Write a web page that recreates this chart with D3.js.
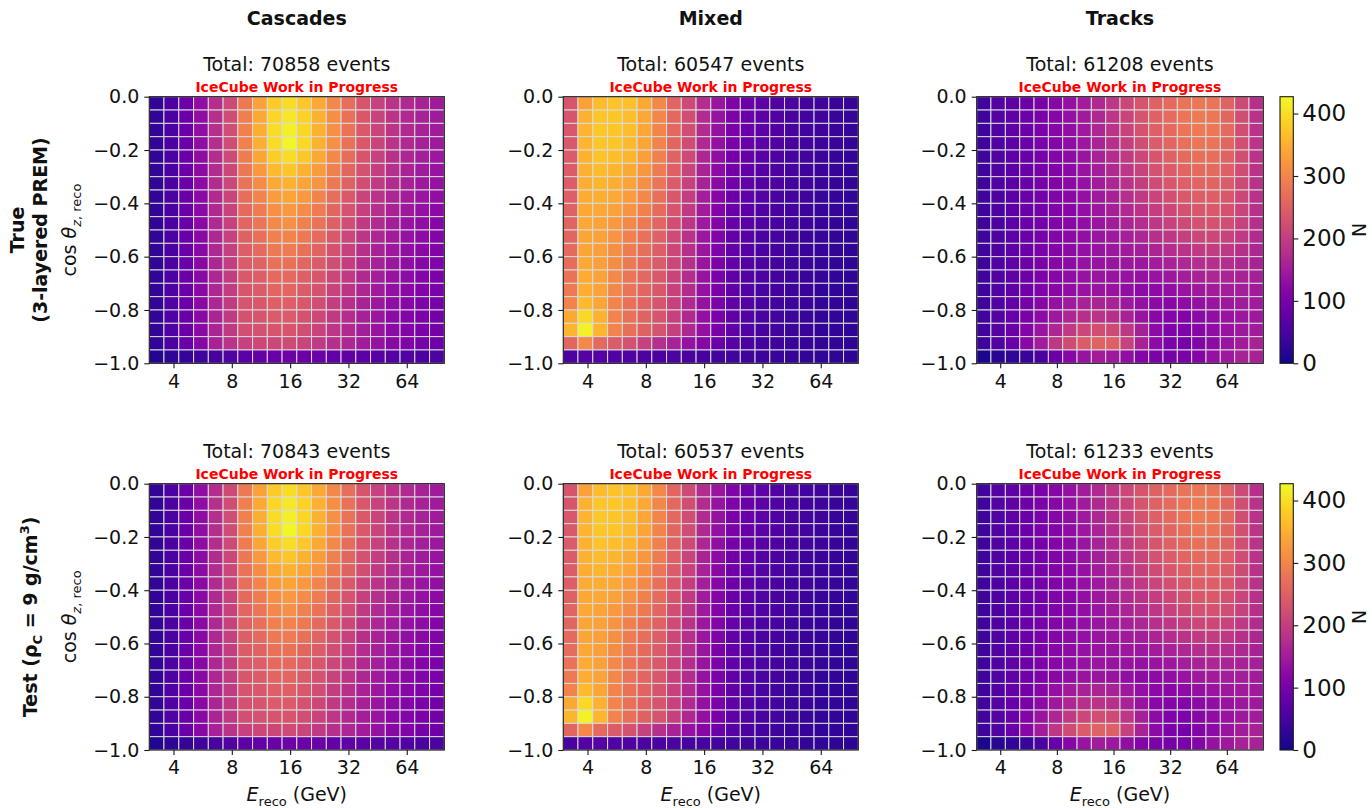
<!DOCTYPE html>
<html>
<head>
<meta charset="utf-8">
<script src="https://cdn.jsdelivr.net/npm/d3@7"></script>
<style>
  html, body { margin: 0; padding: 0; background: #fff; }
  svg { display: block; font-family: "DejaVu Sans", sans-serif; }
</style>
</head>
<body>
<svg id="fig" width="1372" height="808"></svg>
<script>
// ---- binning ----
const energyEdges = [3.00, 3.57, 4.26, 5.08, 6.05, 7.21, 8.59, 10.24, 12.20, 14.54, 17.32,
                     20.64, 24.60, 29.31, 34.93, 41.62, 49.60, 59.10, 70.43, 83.92, 100.0];
const cosEdges = [0.0, -0.05, -0.1, -0.15, -0.2, -0.25, -0.3, -0.35, -0.4, -0.45, -0.5,
                  -0.55, -0.6, -0.65, -0.7, -0.75, -0.8, -0.85, -0.9, -0.95, -1.0];

// ---- labels ----
const columnTitles = ["Cascades", "Mixed", "Tracks"];
const totalsTrue = [70858, 60547, 61208];
const totalsTest = [70843, 60537, 61233];
const xTickValues = [4, 8, 16, 32, 64];
const xTickLabels = ["4", "8", "16", "32", "64"];
const yTickValues = [0.0, -0.2, -0.4, -0.6, -0.8, -1.0];
const yTickLabels = ["0.0", "\u22120.2", "\u22120.4", "\u22120.6", "\u22120.8", "\u22121.0"];
const cbarTickValues = [0, 100, 200, 300, 400];
const cbarTickLabels = ["0", "100", "200", "300", "400"];
const colorMax = 427;

// ---- event counts: rows run from cos = 0 (top) down to cos = -1 (bottom) ----
const cascadesTrue = [
  [30,55,88,128,175,218,285,335,380,398,378,345,305,270,235,205,185,170,158,148],
  [30,55,88,128,177,221,292,345,393,410,388,352,312,274,238,208,186,170,158,148],
  [30,55,88,128,177,222,295,350,400,418,392,355,315,276,240,210,186,170,157,147],
  [30,55,88,127,176,221,294,350,400,425,395,355,315,275,240,210,185,169,156,146],
  [30,55,88,126,175,218,290,340,385,400,378,345,305,268,234,205,181,165,152,142],
  [30,55,87,125,173,215,283,325,362,375,355,330,294,260,228,200,177,161,148,138],
  [30,55,87,124,172,212,276,310,345,355,340,318,284,252,222,195,173,157,144,134],
  [30,55,87,123,171,210,270,300,327,340,325,300,270,240,210,185,165,150,139,129],
  [30,55,86,122,170,208,264,290,315,325,310,288,260,231,202,178,159,144,133,123],
  [30,55,86,121,169,206,258,280,305,315,295,276,250,222,194,171,153,138,127,117],
  [30,55,86,121,168,204,253,272,295,300,285,265,240,213,187,165,149,134,124,114],
  [30,55,86,120,167,202,248,262,285,290,272,255,230,205,180,160,145,130,121,111],
  [30,55,86,120,166,200,244,255,275,275,260,245,222,199,175,156,141,127,117,108],
  [30,56,87,120,165,198,240,248,265,265,250,236,214,193,170,152,137,124,114,105],
  [30,56,87,121,165,197,236,243,258,258,243,229,207,186,165,147,132,121,110,102],
  [30,57,88,121,164,196,233,238,250,250,237,222,200,180,160,142,128,118,107,99],
  [30,57,88,121,163,195,230,233,243,243,230,215,195,175,156,139,125,115,104,96],
  [30,57,88,121,162,193,226,228,235,235,222,208,190,170,153,137,122,113,102,94],
  [28,55,85,118,157,185,205,215,215,220,210,195,180,165,150,135,120,110,99,91],
  [15,25,32,40,50,60,70,80,85,90,88,85,80,75,70,65,62,58,55,52]
];
const mixedTrue = [
  [235,335,365,372,370,345,305,258,218,175,140,108,88,72,60,52,45,40,36,32],
  [235,352,375,376,367,342,302,261,223,173,136,106,86,71,59,51,44,39,35,31],
  [238,356,377,376,366,341,301,261,223,172,135,105,85,70,58,50,44,39,35,31],
  [240,356,376,374,363,339,299,259,221,170,133,103,83,69,57,49,43,38,34,30],
  [242,355,372,368,357,333,295,255,217,166,130,100,81,67,56,48,42,37,33,30],
  [244,352,365,358,345,322,288,249,210,161,125,96,78,65,54,47,41,36,33,29],
  [246,350,357,350,337,312,280,243,204,157,121,92,76,63,53,46,40,36,32,29],
  [248,348,350,343,328,304,273,238,199,153,118,89,73,61,51,45,39,35,32,28],
  [252,345,343,335,318,295,266,232,194,149,115,86,71,59,50,44,38,34,31,28],
  [256,342,338,325,305,284,258,225,188,146,112,82,68,57,48,42,37,33,30,27],
  [260,340,335,318,295,275,251,219,183,143,109,79,66,55,47,41,36,32,29,26],
  [264,340,333,313,289,270,247,215,180,141,107,78,65,54,46,40,36,32,29,26],
  [268,342,333,309,284,265,243,212,177,139,105,77,64,53,45,40,35,31,28,26],
  [276,346,334,305,280,261,240,209,174,137,104,76,63,52,44,39,35,31,28,25],
  [286,350,336,302,277,258,237,206,172,135,103,75,62,51,44,38,34,30,28,25],
  [300,362,340,300,275,256,235,205,170,134,102,74,62,51,43,38,34,30,28,25],
  [345,395,352,300,274,255,234,204,169,133,102,74,61,51,43,38,34,30,27,25],
  [358,420,358,300,272,253,232,203,168,132,101,73,61,50,43,38,34,30,27,25],
  [260,305,262,245,230,205,178,158,135,118,88,65,55,46,40,35,32,29,27,24],
  [55,62,62,60,58,56,55,52,50,48,45,42,40,38,35,32,30,28,25,22]
];
const tracksTrue = [
  [42,62,75,90,105,118,133,150,170,190,212,235,252,265,278,283,278,255,218,180],
  [41,61,74,89,104,117,132,148,168,188,210,233,251,266,280,286,282,260,222,183],
  [41,60,74,88,103,116,130,146,165,185,207,230,249,265,279,286,283,262,225,185],
  [40,59,73,87,102,114,128,143,161,180,201,223,243,260,273,280,278,260,226,186],
  [40,58,72,85,100,112,125,140,157,175,195,215,235,252,265,272,270,255,225,185],
  [40,57,71,85,99,111,123,137,153,170,189,208,227,244,257,264,263,249,221,184],
  [40,57,71,85,99,111,122,135,150,165,183,201,219,236,249,256,256,243,217,183],
  [40,56,70,85,98,110,121,133,146,160,176,193,210,226,239,247,248,237,213,182],
  [40,56,70,85,98,110,120,131,143,155,169,184,200,215,228,237,239,229,209,181],
  [40,55,70,85,98,110,120,130,140,150,162,175,190,205,218,228,230,222,205,180],
  [40,56,71,86,100,112,122,131,139,146,155,164,177,190,202,212,214,207,193,173],
  [40,56,72,88,102,114,124,132,138,143,148,153,163,174,185,194,197,191,180,166],
  [40,57,73,89,104,116,126,134,138,140,142,143,149,157,167,176,180,176,168,160],
  [40,57,74,91,106,118,128,136,139,138,136,134,137,143,152,160,164,163,159,155],
  [40,58,75,92,108,120,130,138,140,137,130,125,125,130,138,145,150,152,152,150],
  [41,60,78,97,116,132,147,158,162,158,145,132,122,120,126,133,140,145,147,148],
  [42,62,82,102,125,145,165,180,185,180,160,138,120,112,115,122,130,138,142,145],
  [42,65,88,112,140,165,195,215,225,218,190,155,125,108,108,118,128,138,145,150],
  [40,60,85,120,150,190,220,245,255,250,205,160,125,105,100,115,125,140,150,160],
  [10,20,28,35,55,85,118,138,150,145,130,115,105,100,105,115,135,145,158,160]
];
const cascadesTest = [
  [30,55,88,128,175,218,285,335,380,398,378,345,305,270,235,205,185,170,158,148],
  [30,55,88,128,177,221,292,345,393,410,388,352,312,274,238,208,186,170,158,148],
  [30,55,88,128,177,222,295,350,400,418,392,355,315,276,240,210,186,170,157,147],
  [30,55,88,127,176,221,294,350,400,425,395,355,315,275,240,210,185,169,156,146],
  [30,55,88,126,175,218,290,340,385,400,378,345,305,268,234,205,181,165,152,142],
  [30,55,87,125,173,215,283,325,362,375,355,330,294,260,228,200,177,161,148,138],
  [30,55,87,124,172,212,276,310,345,355,340,318,284,252,222,195,173,157,144,134],
  [30,55,87,123,171,210,270,300,327,340,325,300,270,240,210,185,165,150,139,129],
  [30,55,86,122,170,208,264,290,315,325,310,288,260,231,202,178,159,144,133,123],
  [30,55,86,121,169,206,258,280,305,315,295,276,250,222,194,171,153,138,127,117],
  [30,55,86,121,168,204,253,272,295,300,285,265,240,213,187,165,149,134,124,114],
  [30,55,86,120,167,202,248,262,285,290,272,255,230,205,180,160,145,130,121,111],
  [30,55,86,120,166,200,244,255,275,275,260,245,222,199,175,156,141,127,117,108],
  [30,56,87,120,165,198,240,248,265,265,250,236,214,193,170,152,137,124,114,105],
  [30,56,87,121,165,197,236,243,258,258,243,229,207,186,165,147,132,121,110,102],
  [30,57,88,121,164,196,233,238,250,250,237,222,200,180,160,142,128,118,107,99],
  [30,57,88,121,163,195,230,233,243,243,230,215,195,175,156,139,125,115,104,96],
  [30,57,88,121,162,193,226,228,235,235,222,208,190,170,153,137,122,113,102,94],
  [28,55,85,118,157,185,205,215,215,220,210,195,180,165,150,135,120,110,99,91],
  [15,25,32,40,50,60,70,80,85,90,88,85,80,75,70,65,62,58,55,52]
];
const mixedTest = [
  [235,335,365,372,370,345,305,258,218,175,140,108,88,72,60,52,45,40,36,32],
  [235,352,375,376,367,342,302,261,223,173,136,106,86,71,59,51,44,39,35,31],
  [238,356,377,376,366,341,301,261,223,172,135,105,85,70,58,50,44,39,35,31],
  [240,356,376,374,363,339,299,259,221,170,133,103,83,69,57,49,43,38,34,30],
  [242,355,372,368,357,333,295,255,217,166,130,100,81,67,56,48,42,37,33,30],
  [244,352,365,358,345,322,288,249,210,161,125,96,78,65,54,47,41,36,33,29],
  [246,350,357,350,337,312,280,243,204,157,121,92,76,63,53,46,40,36,32,29],
  [248,348,350,343,328,304,273,238,199,153,118,89,73,61,51,45,39,35,32,28],
  [252,345,343,335,318,295,266,232,194,149,115,86,71,59,50,44,38,34,31,28],
  [256,342,338,325,305,284,258,225,188,146,112,82,68,57,48,42,37,33,30,27],
  [260,340,335,318,295,275,251,219,183,143,109,79,66,55,47,41,36,32,29,26],
  [264,340,333,313,289,270,247,215,180,141,107,78,65,54,46,40,36,32,29,26],
  [268,342,333,309,284,265,243,212,177,139,105,77,64,53,45,40,35,31,28,26],
  [276,346,334,305,280,261,240,209,174,137,104,76,63,52,44,39,35,31,28,25],
  [286,350,336,302,277,258,237,206,172,135,103,75,62,51,44,38,34,30,28,25],
  [300,362,340,300,275,256,235,205,170,134,102,74,62,51,43,38,34,30,28,25],
  [345,395,352,300,274,255,234,204,169,133,102,74,61,51,43,38,34,30,27,25],
  [358,420,358,300,272,253,232,203,168,132,101,73,61,50,43,38,34,30,27,25],
  [260,305,262,245,230,205,178,158,135,118,88,65,55,46,40,35,32,29,27,24],
  [55,62,62,60,58,56,55,52,50,48,45,42,40,38,35,32,30,28,25,22]
];
const tracksTest = [
  [42,62,75,90,105,118,133,150,170,190,212,235,252,265,278,283,278,255,218,180],
  [41,61,74,89,104,117,132,148,168,188,210,233,251,266,280,286,282,260,222,183],
  [41,60,74,88,103,116,130,146,165,185,207,230,249,265,279,286,283,262,225,185],
  [40,59,73,87,102,114,128,143,161,180,201,223,243,260,273,280,278,260,226,186],
  [40,58,72,85,100,112,125,140,157,175,195,215,235,252,265,272,270,255,225,185],
  [40,57,71,85,99,111,123,137,153,170,189,208,227,244,257,264,263,249,221,184],
  [40,57,71,85,99,111,122,135,150,165,183,201,219,236,249,256,256,243,217,183],
  [40,56,70,85,98,110,121,133,146,160,176,193,210,226,239,247,248,237,213,182],
  [40,56,70,85,98,110,120,131,143,155,169,184,200,215,228,237,239,229,209,181],
  [40,55,70,85,98,110,120,130,140,150,162,175,190,205,218,228,230,222,205,180],
  [40,56,71,86,100,112,122,131,139,146,155,164,177,190,202,212,214,207,193,173],
  [40,56,72,88,102,114,124,132,138,143,148,153,163,174,185,194,197,191,180,166],
  [40,57,73,89,104,116,126,134,138,140,142,143,149,157,167,176,180,176,168,160],
  [40,57,74,91,106,118,128,136,139,138,136,134,137,143,152,160,164,163,159,155],
  [40,58,75,92,108,120,130,138,140,137,130,125,125,130,138,145,150,152,152,150],
  [41,60,78,97,116,132,147,158,162,158,145,132,122,120,126,133,140,145,147,148],
  [42,62,82,102,125,145,165,180,185,180,160,138,120,112,115,122,130,138,142,145],
  [42,65,88,112,140,165,195,215,225,218,190,155,125,108,108,118,128,138,145,150],
  [40,60,85,120,150,190,220,245,255,250,205,160,125,105,100,115,125,140,150,160],
  [10,20,28,35,55,85,118,138,150,145,130,115,105,100,105,115,135,145,158,160]
];

// ---- layout ----
const svg = d3.select("#fig");
const colX = [[149.3, 444.3], [563.3, 858.3], [976.7, 1263.3]];
const rowY = [[96.7, 363.3], [483.7, 750.0]];
const cbarX = [1280, 1293.3];
const FS = 19;
const textColor = "#111";
const color = d3.scaleSequential(d3.interpolatePlasma).domain([0, colorMax]);

const rows = [
  { data: [cascadesTrue, mixedTrue, tracksTrue], totals: totalsTrue },
  { data: [cascadesTest, mixedTest, tracksTest], totals: totalsTest }
];

// column headings
columnTitles.forEach((t, c) => {
  svg.append("text")
    .attr("x", (colX[c][0] + colX[c][1]) / 2).attr("y", 25)
    .attr("text-anchor", "middle").attr("font-size", FS).attr("font-weight", "bold")
    .attr("fill", textColor).text(t);
});

rows.forEach((row, r) => {
  const [y0, y1] = rowY[r];
  const yScale = d3.scaleLinear().domain([-1, 0]).range([y1, y0]);

  row.data.forEach((matrix, c) => {
    const [x0, x1] = colX[c];
    const xScale = d3.scaleLog().domain([energyEdges[0], energyEdges[energyEdges.length - 1]]).range([x0, x1]);
    const g = svg.append("g");

    // cells
    const cells = [];
    matrix.forEach((vals, i) => vals.forEach((v, j) => cells.push({ i, j, v })));
    g.selectAll("rect.cell").data(cells).join("rect")
      .attr("class", "cell")
      .attr("x", d => xScale(energyEdges[d.j]))
      .attr("y", d => yScale(cosEdges[d.i]))
      .attr("width", d => xScale(energyEdges[d.j + 1]) - xScale(energyEdges[d.j]))
      .attr("height", d => yScale(cosEdges[d.i + 1]) - yScale(cosEdges[d.i]))
      .attr("fill", d => color(d.v))
      .attr("stroke", "#dadada").attr("stroke-width", 1);

    // frame
    g.append("rect").attr("x", x0).attr("y", y0).attr("width", x1 - x0).attr("height", y1 - y0)
      .attr("fill", "none").attr("stroke", "#1a1a1a").attr("stroke-width", 1.1);

    // axes
    const xAxis = d3.axisBottom(xScale).tickValues(xTickValues)
      .tickFormat((d, k) => xTickLabels[k]).tickSize(5).tickPadding(6).tickSizeOuter(0);
    const gx = g.append("g").attr("transform", `translate(0,${y1})`).call(xAxis);
    const yAxis = d3.axisLeft(yScale).tickValues(yTickValues)
      .tickFormat((d, k) => yTickLabels[k]).tickSize(5).tickPadding(5).tickSizeOuter(0);
    const gy = g.append("g").attr("transform", `translate(${x0},0)`).call(yAxis);
    [gx, gy].forEach(a => {
      a.select(".domain").remove();
      a.selectAll(".tick line").attr("stroke", "#1a1a1a").attr("stroke-width", 1.1);
      a.selectAll(".tick text").attr("font-size", FS).attr("fill", textColor)
        .attr("font-family", "DejaVu Sans");
    });

    // panel captions
    const cx = (x0 + x1) / 2;
    g.append("text").attr("x", cx).attr("y", y0 - 26)
      .attr("text-anchor", "middle").attr("font-size", FS).attr("fill", textColor)
      .text(`Total: ${row.totals[c]} events`);
    g.append("text").attr("x", cx).attr("y", y0 - 5)
      .attr("text-anchor", "middle").attr("font-size", 14).attr("font-weight", "bold")
      .attr("fill", "#ff0000").text("IceCube Work in Progress");

    // y label on first column
    if (c === 0) {
      const cy = (y0 + y1) / 2;
      const yl = svg.append("text")
        .attr("transform", `translate(${x0 - 73},${cy}) rotate(-90)`)
        .attr("text-anchor", "middle").attr("font-size", FS).attr("fill", textColor);
      yl.append("tspan").text("cos ");
      yl.append("tspan").attr("font-style", "italic").text("\u03b8");
      yl.append("tspan").attr("font-size", 13).attr("dy", 5).attr("font-style", "italic").text("z");
      yl.append("tspan").attr("font-size", 13).text(", reco");
    }

    // x label on bottom row
    if (r === 1) {
      const xl = svg.append("text").attr("x", cx).attr("y", 801)
        .attr("text-anchor", "middle").attr("font-size", FS).attr("fill", textColor);
      xl.append("tspan").attr("font-style", "italic").text("E");
      xl.append("tspan").attr("font-size", 13).attr("dy", 5).text("reco");
      xl.append("tspan").attr("dy", -5).text(" (GeV)");
    }
  });

  // colour bar
  const cScale = d3.scaleLinear().domain([0, colorMax]).range([y1, y0]);
  const gradId = `plasma-${r}`;
  const grad = svg.append("defs").append("linearGradient").attr("id", gradId)
    .attr("x1", 0).attr("y1", 1).attr("x2", 0).attr("y2", 0);
  d3.range(0, 1.0001, 0.02).forEach(t => {
    grad.append("stop").attr("offset", t).attr("stop-color", d3.interpolatePlasma(t));
  });
  svg.append("rect").attr("x", cbarX[0]).attr("y", y0).attr("width", cbarX[1] - cbarX[0])
    .attr("height", y1 - y0).attr("fill", `url(#${gradId})`)
    .attr("stroke", "#1a1a1a").attr("stroke-width", 1.1);
  const cAxis = d3.axisRight(cScale).tickValues(cbarTickValues)
    .tickFormat((d, k) => cbarTickLabels[k]).tickSize(5).tickPadding(4).tickSizeOuter(0);
  const gc = svg.append("g").attr("transform", `translate(${cbarX[1]},0)`).call(cAxis);
  gc.select(".domain").remove();
  gc.selectAll(".tick line").attr("stroke", "#1a1a1a").attr("stroke-width", 1.1);
  gc.selectAll(".tick text").attr("font-size", FS + 4).attr("fill", textColor)
    .attr("font-family", "DejaVu Sans");
  svg.append("text")
    .attr("transform", `translate(1359,${(y0 + y1) / 2}) rotate(-90)`)
    .attr("text-anchor", "middle").attr("dominant-baseline", "central")
    .attr("font-size", FS).attr("fill", textColor).text("N");
});

// row headings
const rowLabelCY = [(rowY[0][0] + rowY[0][1]) / 2, (rowY[1][0] + rowY[1][1]) / 2];
const t1 = svg.append("text")
  .attr("transform", `translate(24,${rowLabelCY[0]}) rotate(-90)`)
  .attr("text-anchor", "middle").attr("font-size", FS).attr("font-weight", "bold").attr("fill", textColor);
t1.append("tspan").attr("x", 0).attr("dy", 0).text("True");
t1.append("tspan").attr("x", 0).attr("dy", 23).text("(3-layered PREM)");

const t2 = svg.append("text")
  .attr("transform", `translate(37,${rowLabelCY[1]}) rotate(-90)`)
  .attr("text-anchor", "middle").attr("font-size", FS).attr("font-weight", "bold").attr("fill", textColor);
t2.append("tspan").text("Test (\u03c1");
t2.append("tspan").attr("font-size", 13).attr("dy", 5).text("C");
t2.append("tspan").attr("dy", -5).text(" = 9 g/cm");
t2.append("tspan").attr("font-size", 13).attr("dy", -8).text("3");
t2.append("tspan").attr("dy", 8).text(")");
</script>
</body>
</html>
